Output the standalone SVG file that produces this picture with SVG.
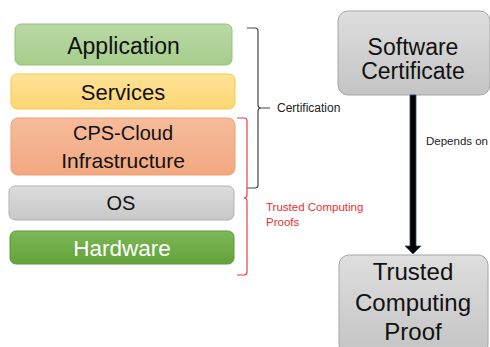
<svg xmlns="http://www.w3.org/2000/svg" width="490" height="347" viewBox="0 0 490 347">
<defs>
<linearGradient id="gApp" x1="0" y1="0" x2="0" y2="1"><stop offset="0" stop-color="#b9d9a5"/><stop offset="1" stop-color="#a6cd8c"/></linearGradient>
<linearGradient id="gSrv" x1="0" y1="0" x2="0" y2="1"><stop offset="0" stop-color="#ffe296"/><stop offset="1" stop-color="#fdd675"/></linearGradient>
<linearGradient id="gCps" x1="0" y1="0" x2="0" y2="1"><stop offset="0" stop-color="#f6bc9c"/><stop offset="1" stop-color="#f2a880"/></linearGradient>
<linearGradient id="gOs" x1="0" y1="0" x2="0" y2="1"><stop offset="0" stop-color="#dcdcdc"/><stop offset="1" stop-color="#c8c8c8"/></linearGradient>
<linearGradient id="gHw" x1="0" y1="0" x2="0" y2="1"><stop offset="0" stop-color="#7cb856"/><stop offset="1" stop-color="#63a23a"/></linearGradient>
<linearGradient id="gGrey" x1="0" y1="0" x2="0" y2="1"><stop offset="0" stop-color="#dedede"/><stop offset="1" stop-color="#c4c4c4"/></linearGradient>
</defs>
<style>
.t{font-family:"Liberation Sans",Arial,sans-serif;text-anchor:middle;fill:#111}
.s{font-family:"Liberation Sans",Arial,sans-serif;fill:#222}
.br{fill:none;stroke-width:1.2}
</style>
<g id="application"><rect x="15" y="24" width="217" height="41" rx="6" fill="url(#gApp)" stroke="#92c274"/><text class="t" x="123.5" y="54" font-size="23">Application</text></g>
<g id="services"><rect x="11" y="74" width="224" height="35" rx="6" fill="url(#gSrv)" stroke="#f7c94a"/><text class="t" x="123" y="100" font-size="22">Services</text></g>
<g id="cps-cloud"><rect x="11" y="118" width="224" height="57" rx="7" fill="url(#gCps)" stroke="#ef9d6f"/><text class="t" x="123" y="140" font-size="20">CPS-Cloud</text><text class="t" x="123" y="168" font-size="21">Infrastructure</text></g>
<g id="os"><rect x="9" y="186" width="225" height="34" rx="6" fill="url(#gOs)" stroke="#b3b3b3"/><text class="t" x="121" y="210" font-size="20">OS</text></g>
<g id="hardware"><rect x="10" y="231" width="224" height="33" rx="6" fill="url(#gHw)" stroke="#5f9a38"/><text class="t" x="122" y="256" font-size="22.5" style="fill:#fff">Hardware</text></g>
<g id="certification"><path class="br" stroke="#444" d="M247 28 H255 Q258 28 258 31 V105 Q258 108 261 108 Q258 108 258 111 V185 Q258 188 255 188 H247 M261 108 H270"/><text class="s" x="277" y="112" font-size="12">Certification</text></g>
<g id="trusted-proofs"><path class="br" stroke="#e8413e" d="M237 118 H244 Q247 118 247 121 V195 Q247 198 244 198 Q247 198 247 201 V272 Q247 275 244 275 H237"/><text class="s" x="266" y="211" font-size="11.5" style="fill:#e8302c">Trusted Computing</text><text class="s" x="266" y="226" font-size="11.5" style="fill:#e8302c">Proofs</text></g>
<g id="software-certificate"><rect x="338" y="11" width="152" height="84" rx="10" fill="url(#gGrey)" stroke="#a6a6a6"/><text class="t" x="413" y="55" font-size="23">Software</text><text class="t" x="413" y="79" font-size="23">Certificate</text></g>
<g id="trusted-computing-proof"><rect x="339" y="255" width="149" height="100" rx="10" fill="url(#gGrey)" stroke="#a6a6a6"/><text class="t" x="413" y="280" font-size="24">Trusted</text><text class="t" x="413" y="311" font-size="24">Computing</text><text class="t" x="413" y="340" font-size="24">Proof</text></g>
<g id="connectors"><path d="M410 95 H416 V246 H421 L413 254 L405 246 H410 Z" fill="#000" stroke="#2f4d70" stroke-width="0.8"/><text class="s" x="426" y="145" font-size="11.5">Depends on</text></g>
</svg>
